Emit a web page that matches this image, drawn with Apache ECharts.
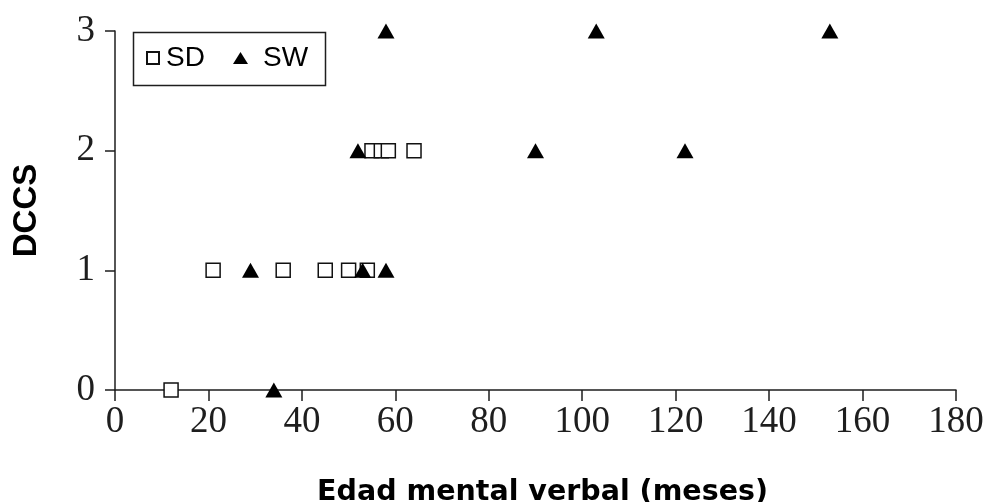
<!DOCTYPE html>
<html>
<head>
<meta charset="utf-8">
<script src="https://cdn.jsdelivr.net/npm/echarts@6/dist/echarts.min.js"></script>
<style>
  html, body { margin: 0; padding: 0; background: #fff; }
  #chart { width: 987px; height: 502px; }
</style>
</head>
<body>
<div id="chart"></div>
<script>
// Verbal mental age (months) vs. DCCS score, by group
const xTicks = [0, 20, 40, 60, 80, 100, 120, 140, 160, 180];
const yTicks = [0, 1, 2, 3];

// SD group: [verbal mental age, DCCS]
const sdAge   = [12, 21, 36, 45, 50, 54, 55, 57, 58.5, 64];
const sdScore = [0, 1, 1, 1, 1, 1, 2, 2, 2, 2];

// SW group: [verbal mental age, DCCS]
const swAge   = [34, 29, 53, 58, 52, 90, 122, 58, 103, 153];
const swScore = [0, 1, 1, 1, 2, 2, 2, 3, 3, 3];

const seriesNames = ['SD', 'SW'];
const xName = 'Edad mental verbal (meses)';
const yName = 'DCCS';

const pair = (xs, ys) => xs.map((v, i) => [v, ys[i]]);

const ink = '#1e1e1e';
const serif = '"Liberation Serif", "DejaVu Serif", serif';
const sans = '"Liberation Sans", Arial, sans-serif';
const wideSans = '"DejaVu Sans", "Liberation Sans", sans-serif';

const chart = echarts.init(document.getElementById('chart'), null, { renderer: 'canvas' });

chart.setOption({
  animation: false,
  backgroundColor: '#ffffff',
  grid: { left: 115, right: 31, top: 31, bottom: 112, containLabel: false, outerBoundsMode: 'none' },
  xAxis: {
    type: 'value',
    min: xTicks[0],
    max: xTicks[xTicks.length - 1],
    interval: xTicks[1] - xTicks[0],
    name: xName,
    nameLocation: 'middle',
    nameGap: 88,
    nameTextStyle: { fontFamily: wideSans, fontWeight: 'bold', fontSize: 28.5, color: '#000', padding: [0, 0, 0, 14] },
    axisLine: { show: true, onZero: false, lineStyle: { color: ink, width: 1.5 } },
    axisTick: { show: true, inside: false, length: 11, lineStyle: { color: ink, width: 1.5 } },
    axisLabel: { fontFamily: serif, fontSize: 37, color: ink, margin: 14 },
    splitLine: { show: false }
  },
  yAxis: {
    type: 'value',
    min: yTicks[0],
    max: yTicks[yTicks.length - 1],
    interval: yTicks[1] - yTicks[0],
    name: yName,
    nameLocation: 'middle',
    nameGap: 72,
    nameRotate: 90,
    nameTextStyle: { fontFamily: sans, fontWeight: 'bold', fontSize: 33, color: '#000' },
    axisLine: { show: true, onZero: false, lineStyle: { color: ink, width: 1.5 } },
    axisTick: { show: true, inside: false, length: 10, lineStyle: { color: ink, width: 1.5 } },
    axisLabel: { fontFamily: serif, fontSize: 37, color: ink, margin: 20 },
    splitLine: { show: false }
  },
  legend: [
    {
      data: [seriesNames[0]],
      left: 146, top: 44,
      padding: 0,
      itemWidth: 12, itemHeight: 12,
      selectedMode: false,
      textStyle: { fontFamily: sans, fontSize: 28, color: '#000', padding: [0, 0, 0, 2] }
    },
    {
      data: [seriesNames[1]],
      left: 233, top: 44,
      padding: 0,
      itemWidth: 15, itemHeight: 12,
      selectedMode: false,
      textStyle: { fontFamily: sans, fontSize: 28, color: '#000', padding: [0, 0, 0, 10] }
    }
  ],
  graphic: [
    {
      type: 'rect',
      shape: { x: 133.5, y: 32.5, width: 192, height: 53 },
      style: { fill: 'none', stroke: ink, lineWidth: 1.5 },
      z: 10
    }
  ],
  series: [
    {
      name: seriesNames[0],
      type: 'scatter',
      symbol: 'rect',
      symbolSize: 14,
      itemStyle: { color: '#ffffff', borderColor: '#111', borderWidth: 1.5, opacity: 1 },
      data: pair(sdAge, sdScore),
      z: 2
    },
    {
      name: seriesNames[1],
      type: 'scatter',
      symbol: 'triangle',
      symbolSize: [17, 15],
      itemStyle: { color: '#000000', opacity: 1 },
      data: pair(swAge, swScore),
      z: 3
    }
  ]
});
</script>
</body>
</html>
